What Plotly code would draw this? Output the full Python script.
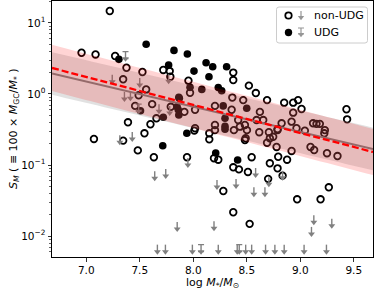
import numpy as np
import plotly.graph_objects as go

# ---------------- data ----------------
nonudg_x = [7.22, 6.956, 7.087, 7.27, 7.376, 7.525, 7.345, 7.72, 7.78, 7.786,
            7.56, 7.49, 7.457, 7.616, 7.79, 7.656, 7.60, 7.39, 7.072, 7.345,
            7.544, 7.482, 7.632, 7.942, 8.01, 8.15, 8.15, 8.194, 8.234, 8.374,
            8.427, 8.511, 8.546, 8.716, 8.794, 8.788, 8.70, 8.877, 8.835, 8.281,
            8.374, 8.527, 8.971, 9.19, 9.267, 8.374, 8.374, 7.955, 8.52, 8.585,
            8.69, 8.467, 8.365, 7.97, 7.917, 8.017, 8.203, 8.359, 8.42, 8.623,
            8.592, 8.654, 8.203, 8.017, 8.483, 8.85, 8.934, 8.98, 9.012, 8.934,
            9.432, 9.438, 8.826, 8.919, 8.965, 9.043, 8.788, 9.12, 9.152, 9.183,
            9.23, 9.225, 8.779, 8.919, 9.096, 9.13, 9.25, 9.348, 8.747, 8.69,
            8.203, 8.38, 8.436, 8.502, 8.49, 8.617, 8.707, 8.716, 8.788, 8.483]
nonudg_y = [14.7, 3.8, 3.6, 3.42, 2.34, 2.04, 1.61, 2.18, 2.10, 1.75,
            1.16, 0.96, 0.68, 0.72, 0.66, 0.455, 0.375, 0.40, 0.233, 0.221,
            0.28, 0.161, 0.129, 0.129, 0.305, 0.28, 0.23, 0.125, 0.119, 0.093,
            0.087, 0.080, 0.129, 0.106, 0.131, 0.090, 0.064, 0.119, 0.071, 0.0432,
            0.0217, 0.0149, 0.033, 0.033, 0.0487, 2.0, 1.57, 1.54, 1.31, 1.03,
            0.82, 0.82, 0.89, 1.04, 0.56, 0.60, 0.68, 0.60, 0.43, 0.56,
            0.43, 0.43, 0.367, 0.33, 0.367, 0.755, 0.755, 0.82, 0.615, 0.546,
            0.61, 0.44, 0.387, 0.408, 0.33, 0.305, 0.312, 0.387, 0.38, 0.38,
            0.31, 0.28, 0.18, 0.158, 0.18, 0.163, 0.147, 0.134, 0.25, 0.206,
            0.31, 0.31, 0.347, 0.31, 0.238, 0.29, 0.29, 0.238, 0.32, 0.225]

udg_x = [7.56, 7.82, 7.305, 7.77, 7.865, 7.507, 7.72, 7.715, 7.94, 8.21,
         8.415, 7.945, 8.12, 8.182, 8.312, 8.007, 8.147, 8.234, 8.266, 8.08,
         7.97, 7.87, 8.28, 8.50, 7.86, 8.297, 8.297, 8.297, 7.849, 7.865]
udg_y = [5.0, 4.1, 3.07, 2.56, 0.90, 0.58, 0.47, 0.187, 0.28, 0.148,
         0.118, 3.65, 2.75, 2.42, 2.42, 2.10, 1.75, 1.23, 1.11, 1.16,
         1.24, 0.87, 0.68, 0.63, 0.60, 0.455, 0.35, 0.32, 0.66, 0.507]

nonudg_lim_x = [7.243, 7.50, 7.357, 7.413, 7.68, 7.77, 7.78, 7.314, 7.43, 7.64,
                7.743, 7.95, 7.85, 8.583, 8.222, 8.40, 8.567, 8.67, 8.707, 8.835,
                8.194, 9.127, 9.105, 9.295,
                7.665, 7.74, 7.992, 8.234, 8.411, 8.49, 8.546, 8.676, 8.763, 8.85,
                9.036, 9.245]
nonudg_lim_y = [1.87, 1.68, 1.07, 1.09, 0.72, 1.89, 0.68, 0.263, 0.292, 0.0818,
                0.088, 0.126, 0.0158, 0.091, 0.0617, 0.0638, 0.0487, 0.0487, 0.0675, 0.083,
                0.0162, 0.0197, 0.0135, 0.0176,
                0.0076, 0.0076, 0.0076, 0.0076, 0.0076, 0.0076, 0.0076, 0.0076, 0.0076, 0.0076,
                0.0076, 0.0076]

udg_lim_x = [7.367, 7.49, 8.073, 8.43]
udg_lim_y = [3.94, 0.72, 0.0076, 0.0076]

# fit relations: log10 S_M = a + b * (log M* - 8), with band half-width s (dex)
gray_fit = dict(a=-0.179, b=-0.354, s=0.30)
red_fit = dict(a=-0.154, b=-0.394, s=0.325)

x_ticks = [7.0, 7.5, 8.0, 8.5, 9.0, 9.5]
x_tick_text = ["7.0", "7.5", "8.0", "8.5", "9.0", "9.5"]
y_ticks = [0.01, 0.1, 1, 10]
y_tick_text = ["10<sup>−2</sup>", "10<sup>−1</sup>", "10<sup>0</sup>", "10<sup>1</sup>"]

X_RANGE = [6.68, 9.68]
Y_RANGE = [-2.293, 1.308]
FONT = "DejaVu Sans"
GRAY = "rgb(128,128,128)"

fig = go.Figure()


def add_limits(xs, ys, cap, xaxis="x", yaxis="y", stem_px=7.0, dex_per_px=3.601 / 256):
    f = 10 ** (-stem_px * dex_per_px)
    ys = np.asarray(ys, float)
    fig.add_trace(go.Scatter(
        x=xs, y=ys, mode="markers", xaxis=xaxis, yaxis=yaxis,
        marker=dict(size=1, color="rgba(0,0,0,0)"),
        error_y=dict(type="data", symmetric=False, array=[0] * len(ys),
                     arrayminus=list(ys * (1 - f)), color=GRAY,
                     thickness=1.4, width=3 if cap else 0),
        showlegend=False, hoverinfo="skip"))
    fig.add_trace(go.Scatter(
        x=xs, y=list(ys * f), mode="markers", xaxis=xaxis, yaxis=yaxis,
        marker=dict(symbol="triangle-down", size=6, color=GRAY, line=dict(width=0)),
        showlegend=False, hoverinfo="skip"))


# points
fig.add_trace(go.Scatter(x=nonudg_x, y=nonudg_y, mode="markers", name="non-UDG",
                         marker=dict(symbol="circle-open", size=6.6, color="black",
                                     line=dict(width=1.8, color="black")),
                         showlegend=False))
fig.add_trace(go.Scatter(x=udg_x, y=udg_y, mode="markers", name="UDG",
                         marker=dict(symbol="circle", size=7.6, color="black", line=dict(width=0)),
                         showlegend=False))
add_limits(nonudg_lim_x, nonudg_lim_y, cap=False)
add_limits(udg_lim_x, udg_lim_y, cap=True)

# fit bands and lines
xg = np.linspace(X_RANGE[0], X_RANGE[1], 50)


def band(fit, color):
    c = fit["a"] + fit["b"] * (xg - 8.0)
    up = 10 ** (c + fit["s"])
    lo = 10 ** (c - fit["s"])
    fig.add_trace(go.Scatter(x=np.concatenate([xg, xg[::-1]]),
                             y=np.concatenate([up, lo[::-1]]),
                             mode="none", fill="toself", fillcolor=color,
                             showlegend=False, hoverinfo="skip"))
    return 10 ** c


g_line = band(gray_fit, "rgba(128,128,128,0.24)")
fig.add_trace(go.Scatter(x=xg, y=g_line, mode="lines", line=dict(color=GRAY, width=2),
                         showlegend=False, hoverinfo="skip"))
r_line = band(red_fit, "rgba(255,0,0,0.17)")
fig.add_trace(go.Scatter(x=xg, y=r_line, mode="lines",
                         line=dict(color="rgb(255,0,0)", width=2.3, dash="7px,3px"),
                         showlegend=False, hoverinfo="skip"))

# ---------------- manual legend (overlay axes in pixel units of plot area) ----------------
L, R, T, B = 52, 373, 1, 257
bx0, bx1, by0, by1, rr = 276.5, 367.5, 7, 43, 2.5
path = (f"M{bx0+rr},{by0} L{bx1-rr},{by0} Q{bx1},{by0} {bx1},{by0+rr} "
        f"L{bx1},{by1-rr} Q{bx1},{by1} {bx1-rr},{by1} L{bx0+rr},{by1} "
        f"Q{bx0},{by1} {bx0},{by1-rr} L{bx0},{by0+rr} Q{bx0},{by0} {bx0+rr},{by0} Z")
fig.add_shape(type="path", path=path, xref="x2", yref="y2",
              line=dict(color="rgb(204,204,204)", width=1), fillcolor="rgba(255,255,255,0.8)",
              layer="below")
fig.add_trace(go.Scatter(x=[288.5], y=[15.5], mode="markers", xaxis="x2", yaxis="y2",
                         marker=dict(symbol="circle-open", size=6.4, color="black",
                                     line=dict(width=1.8, color="black")),
                         showlegend=False, hoverinfo="skip"))
fig.add_trace(go.Scatter(x=[288.5], y=[32.5], mode="markers", xaxis="x2", yaxis="y2",
                         marker=dict(symbol="circle", size=7.4, color="black"),
                         showlegend=False, hoverinfo="skip"))
for yy, cap in ((15.5, False), (32.5, True)):
    fig.add_trace(go.Scatter(x=[301], y=[yy - 4.5], mode="markers", xaxis="x2", yaxis="y2",
                             marker=dict(size=1, color="rgba(0,0,0,0)"),
                             error_y=dict(type="data", symmetric=False, array=[0],
                                          arrayminus=[-6], color="rgb(150,150,150)",
                                          thickness=1.2, width=3 if cap else 0),
                             showlegend=False, hoverinfo="skip"))
    fig.add_trace(go.Scatter(x=[301], y=[yy + 2], mode="markers", xaxis="x2", yaxis="y2",
                             marker=dict(symbol="triangle-down", size=5.5, color="rgb(150,150,150)"),
                             showlegend=False, hoverinfo="skip"))
for yy, txt in ((15.5, "non-UDG"), (32.5, "UDG")):
    fig.add_annotation(x=312, y=yy, xref="x2", yref="y2", text=txt, showarrow=False,
                       xanchor="left", yanchor="middle",
                       font=dict(family=FONT, size=11, color="black"))

# axis titles
fig.add_annotation(x=0.5, y=(B - 283) / (B - T), xref="paper", yref="paper",
                   text="log <i>M</i><sub>*</sub>/<i>M</i><sub>⊙</sub>", showarrow=False,
                   xanchor="center", yanchor="middle", font=dict(family=FONT, size=11, color="black"))
fig.add_annotation(x=(14 - L) / (R - L), y=0.5, xref="paper", yref="paper", textangle=-90,
                   text="<i>S</i><sub><i>M</i></sub> ( ≡ 100 × <i>M</i><sub>GC</sub>/<i>M</i><sub>*</sub> )",
                   showarrow=False, xanchor="center", yanchor="middle",
                   font=dict(family=FONT, size=11, color="black"))

minor_vals = [m * 10.0 ** k for k in range(-3, 2) for m in range(2, 10)]

fig.update_layout(
    width=375, height=294,
    margin=dict(l=L, r=375 - R, t=T, b=294 - B, pad=0),
    paper_bgcolor="white", plot_bgcolor="white",
    font=dict(family=FONT, size=10.5, color="black"),
    showlegend=False,
    xaxis=dict(range=X_RANGE, tickmode="array", tickvals=x_ticks, ticktext=x_tick_text,
               ticks="outside", ticklen=3.5, tickwidth=0.8, tickcolor="black",
               showline=True, linecolor="black", linewidth=1, mirror=True,
               showgrid=False, zeroline=False, tickfont=dict(family=FONT, size=10.5)),
    yaxis=dict(type="log", range=Y_RANGE, tickmode="array", tickvals=y_ticks, ticktext=y_tick_text,
               ticks="outside", ticklen=3.5, tickwidth=0.8, tickcolor="black",
               showline=True, linecolor="black", linewidth=1, mirror=True,
               showgrid=False, zeroline=False, tickfont=dict(family=FONT, size=10.5),
               minor=dict(tickmode="array", tickvals=minor_vals, ticks="outside",
                          ticklen=2, tickwidth=0.6, tickcolor="black", showgrid=False)),
    xaxis2=dict(range=[L, R], overlaying="x", visible=False, fixedrange=True),
    yaxis2=dict(range=[B, T], overlaying="y", visible=False, fixedrange=True),
)

fig.write_html("out.html", config={"displayModeBar": False, "staticPlot": True},
               post_script="document.body.style.margin='0';document.body.style.padding='0';"
                           "document.body.style.overflow='hidden';")
